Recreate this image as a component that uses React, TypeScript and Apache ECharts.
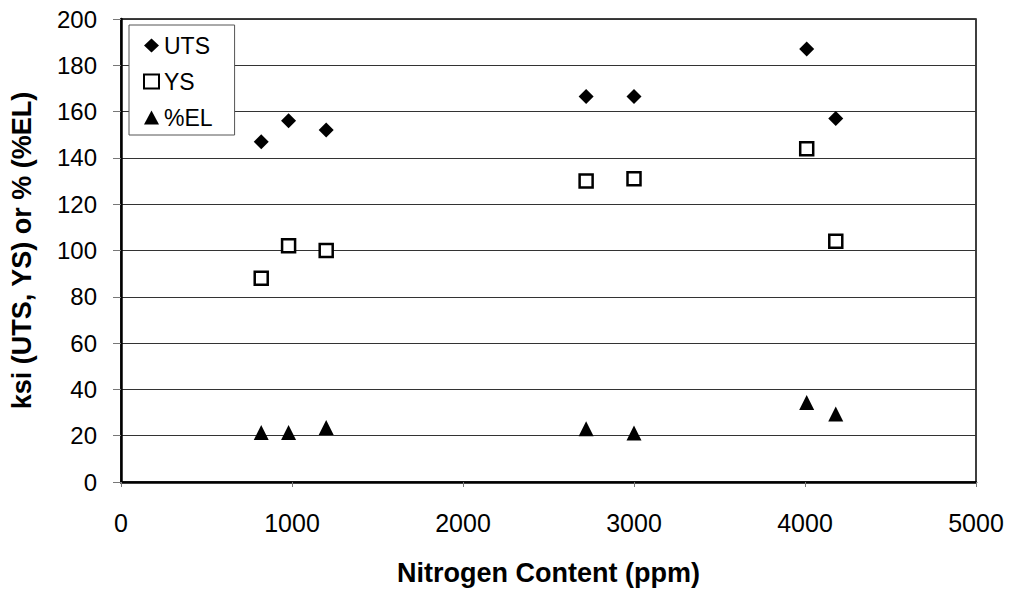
import React, { useEffect, useRef } from "react";
import * as echarts from "echarts";

const nitrogen = [820, 980, 1200, 2720, 3000, 4010, 4180];
const uts = [147, 156, 152, 166.5, 166.5, 187, 157];
const ys = [88, 102, 100, 130, 131, 144, 104];
const el = [21.4, 21.4, 23.5, 23, 21.2, 34.3, 29.4];

const FONT = "'Liberation Sans', Arial, sans-serif";

export default function App() {
  const ref = useRef<HTMLDivElement>(null);
  useEffect(() => {
    document.body.style.margin = "0";
    const chart = echarts.init(ref.current!, null, { renderer: "svg" });
    const pairs = (vals: number[]) => nitrogen.map((x, i) => [x, vals[i]]);
    chart.setOption({
      animation: false,
      backgroundColor: "#fff",
      textStyle: { fontFamily: FONT, color: "#000" },
      grid: {
        left: 121,
        right: 35,
        top: 19,
        bottom: 108,
        containLabel: false,
        outerBoundsMode: "none",
        show: true,
        borderColor: "#000",
        borderWidth: 1.5,
      },
      legend: {
        orient: "vertical",
        left: 129,
        top: 25,
        padding: [9, 22, 6, 14],
        itemGap: 13,
        itemWidth: 15,
        itemHeight: 14,
        backgroundColor: "#fff",
        borderColor: "#555",
        borderWidth: 1,
        textStyle: { fontFamily: FONT, fontSize: 23, lineHeight: 23, color: "#000" },
        data: ["UTS", "YS", "%EL"],
      },
      xAxis: {
        type: "value",
        min: 0,
        max: 5000,
        interval: 1000,
        name: "Nitrogen Content (ppm)",
        nameLocation: "middle",
        nameGap: 77,
        nameTextStyle: { fontFamily: FONT, fontSize: 27, fontWeight: "bold", color: "#000" },
        axisLine: { show: true, lineStyle: { color: "#000", width: 2.5 } },
        axisTick: { show: true, length: 5, lineStyle: { color: "#777" } },
        axisLabel: {
          fontFamily: FONT,
          fontSize: 25,
          color: "#000",
          margin: 28,
          formatter: (v: number) => String(v),
        },
        splitLine: { show: false },
      },
      yAxis: {
        type: "value",
        min: 0,
        max: 200,
        interval: 20,
        name: "ksi (UTS, YS) or % (%EL)",
        nameLocation: "middle",
        nameGap: 86,
        nameTextStyle: { fontFamily: FONT, fontSize: 27, fontWeight: "bold", color: "#000" },
        axisLine: { show: true, lineStyle: { color: "#000", width: 2.5 } },
        axisTick: { show: true, length: 8, lineStyle: { color: "#777" } },
        axisLabel: {
          fontFamily: FONT,
          fontSize: 24,
          color: "#000",
          margin: 24,
          formatter: (v: number) => String(v),
        },
        splitLine: { show: true, lineStyle: { color: "#333", width: 1 } },
      },
      series: [
        {
          name: "UTS",
          type: "scatter",
          symbol: "diamond",
          symbolSize: 15,
          itemStyle: { color: "#000", opacity: 1 },
          data: pairs(uts),
        },
        {
          name: "YS",
          type: "scatter",
          symbol: "rect",
          symbolSize: 13,
          itemStyle: { color: "#fff", borderColor: "#000", borderWidth: 2.5, opacity: 1 },
          data: pairs(ys),
        },
        {
          name: "%EL",
          type: "scatter",
          symbol: "triangle",
          symbolSize: [15, 15],
          itemStyle: { color: "#000", opacity: 1 },
          data: pairs(el),
        },
      ],
    });
    return () => chart.dispose();
  }, []);
  return <div ref={ref} style={{ width: 1011, height: 590 }} />;
}
